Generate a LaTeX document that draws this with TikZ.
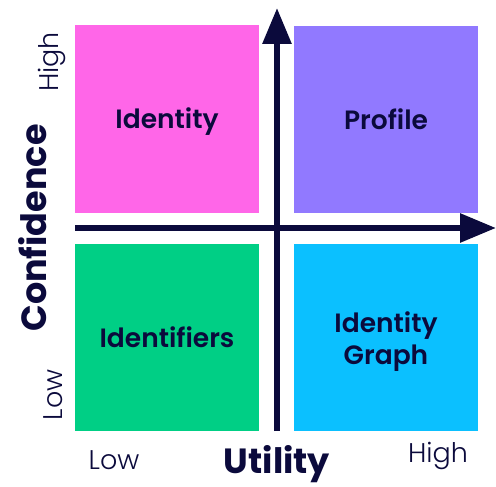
\documentclass[tikz,border=0pt]{standalone}
\usepackage{fontspec}
\setmainfont{Poppins}[BoldFont={Poppins SemiBold}]
\newfontfamily\lightfont{Poppins Light}
\newfontfamily\heavyfont{Poppins Bold}
\usetikzlibrary{arrows.meta}
\definecolor{navy}{HTML}{0B0A3C}
\definecolor{qpink}{HTML}{FF66E8}
\definecolor{qpurple}{HTML}{9179FF}
\definecolor{qgreen}{HTML}{00CF85}
\definecolor{qblue}{HTML}{0BC0FF}
\begin{document}
\begin{tikzpicture}[x=1pt,y=-1pt,
  quad/.style={minimum width=184pt,minimum height=187pt,inner sep=0pt,draw=none},
  qlabel/.style={text=navy,font=\fontsize{26.5}{32}\selectfont\bfseries,align=center,inner sep=0pt},
  axis/.style={draw=navy,line width=6pt,-{Triangle[length=36pt,width=28pt]}},
  tick/.style={text=navy,font=\fontsize{27}{30}\selectfont\lightfont,inner sep=0pt},
  title/.style={text=navy,font=\fontsize{35}{40}\selectfont\heavyfont,inner sep=0pt}]
\useasboundingbox (0,0) rectangle (496,487);
\node[quad,fill=qpink]   (identity) at (167,119) {};
\node[quad,fill=qpurple] (profile)  at (386,119.5) {};
\node[quad,fill=qgreen]  (idents)   at (167,337.5) {};
\node[quad,fill=qblue]   (graph)    at (386,337.5) {};
\node[qlabel] (tidentity) at ([yshift=-3pt]identity.center) {Identity};
\node[qlabel] (tprofile) at (profile.center) {Profile};
\node[qlabel] (tidents) at (idents.center) {Identifiers};
\node[qlabel] (tgraph) at ([yshift=-4pt]graph.center) {Identity\\Graph};
\coordinate (hstart) at (75,228);
\coordinate (hend) at (496,228);
\coordinate (vstart) at (277,431);
\coordinate (vend) at (277,8);
\draw[axis] (hstart) -- (hend);
\draw[axis] (vstart) -- (vend);
\node[title] (utility) at (277,464) {Utility};
\node[title,rotate=90] (conf) at (33,228) {Confidence};
\node[tick] (xlow) at (114,460) {Low};
\node[tick] (xhigh) at (438,456) {High};
\node[tick,rotate=90] (ylow) at (53,395) {Low};
\node[tick,rotate=90] (yhigh) at (52,62) {High};
\end{tikzpicture}
\end{document}
